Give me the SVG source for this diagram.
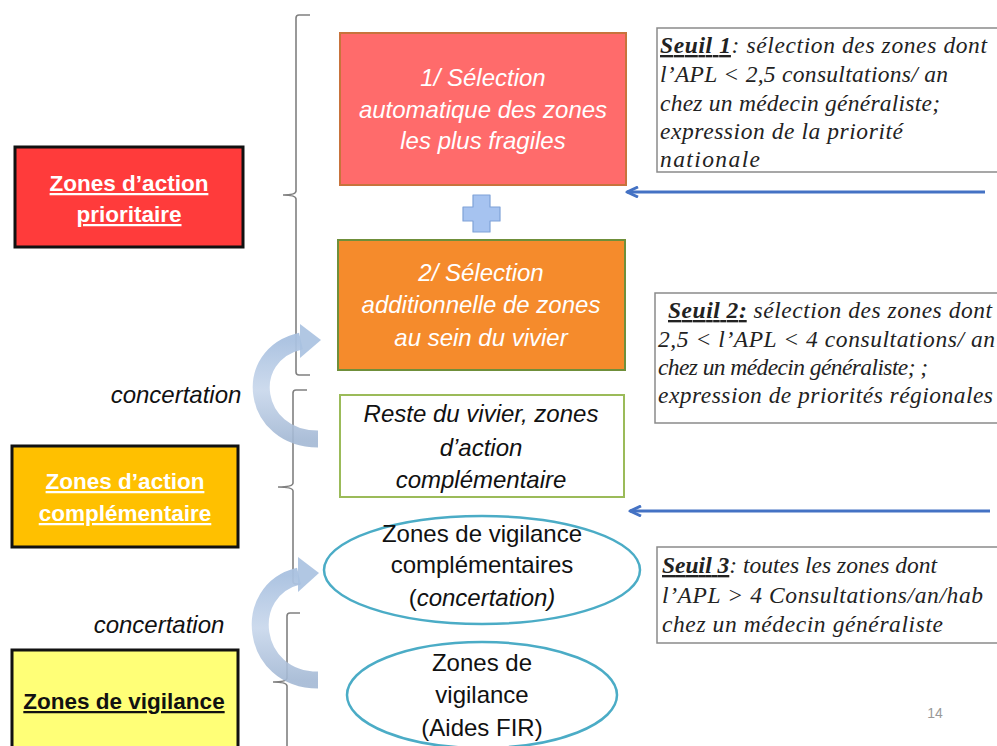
<svg xmlns="http://www.w3.org/2000/svg" width="997" height="746" viewBox="0 0 997 746">
<style>
.lbl{font-family:"Liberation Sans",Arial,sans-serif;font-weight:bold;font-size:22.5px;text-anchor:middle;text-decoration:underline}
.ctr{font-family:"Liberation Sans",Arial,sans-serif;font-size:24px;text-anchor:middle}
.it{font-style:italic}
.note{font-family:"Liberation Serif","Times New Roman",serif;font-style:italic;font-size:23.5px;fill:#222}
.su{font-weight:bold;text-decoration:underline}
.brk{fill:none;stroke:#808080;stroke-width:1.6}
.thr{fill:#fff;stroke:#8a8a8a;stroke-width:1.5}
.curve{fill:none;stroke:url(#cg);stroke-width:17}
.head{fill:#A9C1E0;opacity:0.9}
.barrow{stroke:#4472C4;stroke-width:3;fill:none;marker-end:url(#ah)}
</style>
<defs>
<marker id="ah" markerWidth="14" markerHeight="12" refX="12" refY="6" orient="auto" markerUnits="userSpaceOnUse">
<path d="M1,1 L12,6 L1,11" fill="none" stroke="#4472C4" stroke-width="3" stroke-linejoin="round"/>
</marker>
<linearGradient id="cg" x1="0" y1="1" x2="0" y2="0">
<stop offset="0" stop-color="#A3B8D4" stop-opacity="0.9"/>
<stop offset="0.5" stop-color="#C4D4EA" stop-opacity="0.85"/>
<stop offset="1" stop-color="#A9C1E0" stop-opacity="0.95"/>
</linearGradient>
</defs>
<rect width="997" height="746" fill="#fff"/>

<g id="brackets">
<path class="brk" d="M310 15 L299 15 Q296 15 296 18 L296 191 Q296 195 283 195 Q296 195 296 199 L296 372 Q296 375 299 375 L310 375"/>
<path class="brk" d="M307 390 L296 390 Q293 390 293 393 L293 483 Q293 487 278 487 Q293 487 293 491 L293 581 Q293 584 296 584 L300 584"/>
<path class="brk" d="M300 613 L290 613 Q287 613 287 616 L287 678 Q287 682 273 682 Q287 682 287 686 L287 746"/>
</g>

<g id="connectors">
<path class="barrow" d="M985 192 L627 192"/>
<path class="barrow" d="M990 511 L630 511"/>
<g id="curve1">
<path class="curve" d="M318 439 C252 439 240 355 301 341"/>
<polygon class="head" points="300,324 321,340 300,358"/>
</g>
<g id="curve2">
<path class="curve" d="M318 680 C250 680 240 590 299 576"/>
<polygon class="head" points="298,557 319,573 298,592"/>
</g>
</g>

<g id="zap">
<rect x="15" y="147" width="228" height="100" fill="#FF3B3B" stroke="#111" stroke-width="3"/>
<text class="lbl" x="129" y="191" fill="#fff">Zones d’action</text>
<text class="lbl" x="129" y="222" fill="#fff">prioritaire</text>
</g>
<g id="zac">
<rect x="12" y="446" width="226" height="101" fill="#FFC000" stroke="#111" stroke-width="3"/>
<text class="lbl" x="125" y="489" fill="#fff">Zones d’action</text>
<text class="lbl" x="125" y="521" fill="#fff">complémentaire</text>
</g>
<g id="zv">
<rect x="12" y="650" width="226" height="110" fill="#FFFF77" stroke="#111" stroke-width="3"/>
<text class="lbl" x="124" y="709" fill="#111">Zones de vigilance</text>
</g>

<g id="conc1"><text class="ctr it" x="176" y="403" fill="#111">concertation</text></g>
<g id="conc2"><text class="ctr it" x="159" y="633" fill="#111">concertation</text></g>

<g id="sel1">
<rect x="340" y="33" width="286" height="152" fill="#FF6B6B" stroke="#C8733C" stroke-width="2"/>
<text class="ctr it" x="483" y="86" fill="#fff">1/ Sélection</text>
<text class="ctr it" x="483" y="118" fill="#fff">automatique des zones</text>
<text class="ctr it" x="483" y="149" fill="#fff">les plus fragiles</text>
</g>
<g id="plus">
<path d="M473 195 L490 195 L490 207 L500 207 L500 221 L490 221 L490 232 L473 232 L473 221 L463 221 L463 207 L473 207 Z" fill="#A6C3F0" stroke="#7FA2D8" stroke-width="1.2" stroke-linejoin="round"/>
</g>
<g id="sel2">
<rect x="338" y="240" width="287" height="130" fill="#F58B2C" stroke="#6F8F3A" stroke-width="2"/>
<text class="ctr it" x="481" y="281" fill="#fff">2/ Sélection</text>
<text class="ctr it" x="481" y="313" fill="#fff">additionnelle de zones</text>
<text class="ctr it" x="481" y="346" fill="#fff">au sein du vivier</text>
</g>
<g id="reste">
<rect x="340" y="395" width="284" height="102" fill="#fff" stroke="#9BBB59" stroke-width="2"/>
<text class="ctr it" x="481" y="422" fill="#111">Reste du vivier, zones</text>
<text class="ctr it" x="481" y="456" fill="#111">d’action</text>
<text class="ctr it" x="481" y="488" fill="#111">complémentaire</text>
</g>
<g id="zvc">
<ellipse cx="482" cy="570" rx="158" ry="54" fill="#fff" stroke="#4BACC6" stroke-width="2.5"/>
<text class="ctr" x="482" y="542" fill="#111">Zones de vigilance</text>
<text class="ctr" x="482" y="573" fill="#111">complémentaires</text>
<text class="ctr" x="482" y="606" fill="#111">(<tspan class="it">concertation)</tspan></text>
</g>
<g id="zvf">
<ellipse cx="482" cy="695" rx="135" ry="53" fill="#fff" stroke="#4BACC6" stroke-width="2.5"/>
<text class="ctr" x="482" y="671" fill="#111">Zones de</text>
<text class="ctr" x="482" y="703" fill="#111">vigilance</text>
<text class="ctr" x="482" y="736" fill="#111">(Aides FIR)</text>
</g>

<g id="seuil1">
<rect class="thr" x="657" y="28" width="345" height="144"/>
<text class="note" x="660" y="53" textLength="327" lengthAdjust="spacing"><tspan class="su">Seuil 1</tspan>: sélection des zones  dont</text>
<text class="note" x="660" y="82" textLength="288" lengthAdjust="spacing">l’APL &lt; 2,5 consultations/ an</text>
<text class="note" x="660" y="111" textLength="280" lengthAdjust="spacing">chez un médecin généraliste;</text>
<text class="note" x="660" y="139" textLength="243" lengthAdjust="spacing">expression de la priorité</text>
<text class="note" x="660" y="167" textLength="100" lengthAdjust="spacing">nationale</text>
</g>
<g id="seuil2">
<rect class="thr" x="655" y="293" width="347" height="130"/>
<text class="note" x="668" y="318" textLength="324" lengthAdjust="spacing"><tspan class="su">Seuil 2:</tspan> sélection des zones  dont</text>
<text class="note" x="658" y="347" textLength="337" lengthAdjust="spacing">2,5 &lt; l’APL &lt; 4 consultations/ an</text>
<text class="note" x="658" y="375" textLength="270" lengthAdjust="spacing">chez un médecin généraliste; ;</text>
<text class="note" x="658" y="403" textLength="335" lengthAdjust="spacing">expression de priorités régionales</text>
</g>
<g id="seuil3">
<rect class="thr" x="657" y="547" width="345" height="96"/>
<text class="note" x="662" y="573" textLength="275" lengthAdjust="spacing"><tspan class="su">Seuil 3</tspan>: toutes les zones dont</text>
<text class="note" x="662" y="603" textLength="321" lengthAdjust="spacing">l’APL &gt; 4 Consultations/an/hab</text>
<text class="note" x="662" y="632" textLength="281" lengthAdjust="spacing">chez un médecin généraliste</text>
</g>

<text x="935" y="718" font-family="Liberation Sans,Arial,sans-serif" font-size="14" fill="#999" text-anchor="middle">14</text>
</svg>
